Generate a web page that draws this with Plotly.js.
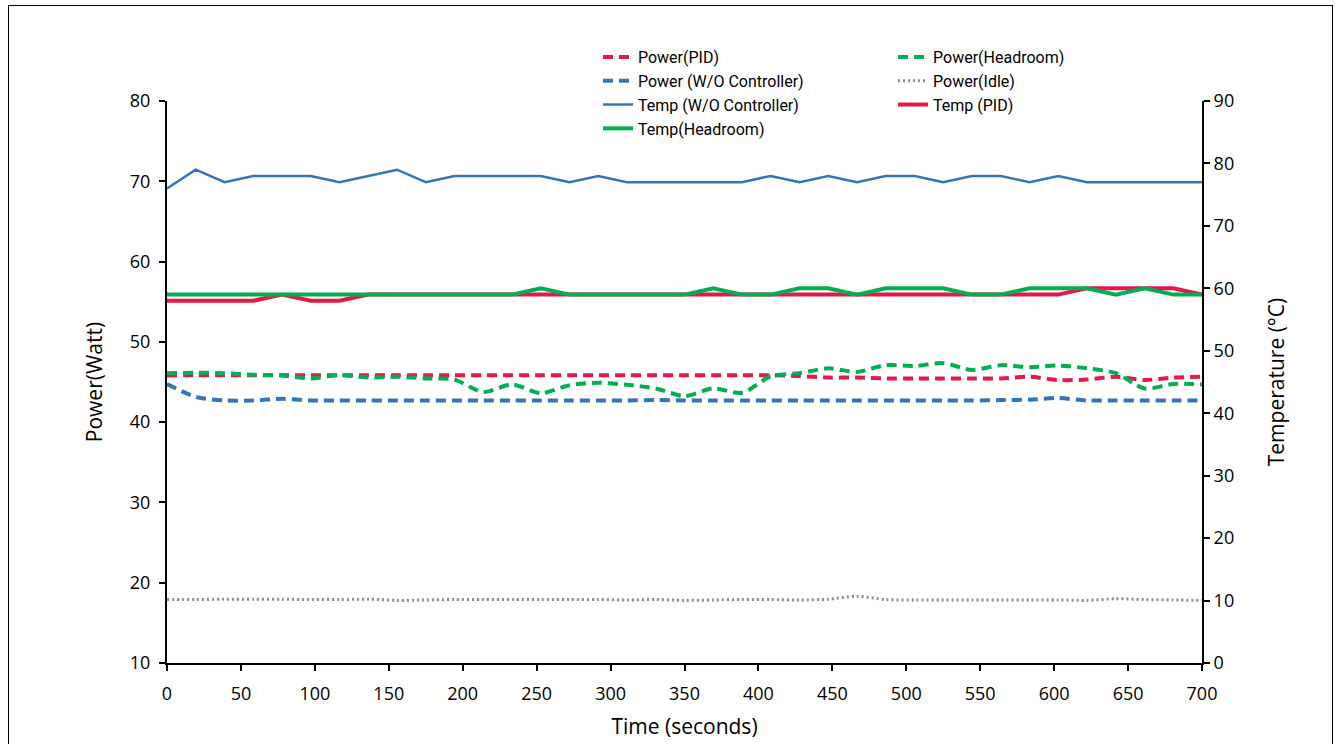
<!DOCTYPE html>
<html>
<head>
<meta charset="utf-8">
<script src="https://cdn.plot.ly/plotly-3.0.1.min.js"></script>
<style>
  html, body { margin: 0; padding: 0; background: #ffffff; }
  #chart { position: absolute; left: 0; top: 0; width: 1338px; height: 744px; }
  #frame { position: absolute; left: 8px; top: 5px; width: 1323px; height: 760px;
           border: 1px solid #000; pointer-events: none; }
</style>
</head>
<body>
<div id="chart"></div>
<div id="frame"></div>
<script>
// Sample times (seconds)
const timeSec = [0, 19.4, 38.9, 58.3, 77.8, 97.2, 116.7, 136.1, 155.6, 175, 194.4, 213.9,
  233.3, 252.8, 272.2, 291.7, 311.1, 330.6, 350, 369.4, 388.9, 408.3, 427.8, 447.2,
  466.7, 486.1, 505.6, 525, 544.4, 563.9, 583.3, 602.8, 622.2, 641.7, 661.1, 680.6, 700];

// Power draw (W)
const powerPID = [45.8, 45.85, 45.85, 45.85, 45.85, 45.85, 45.85, 45.85, 45.85, 45.85, 45.85, 45.85,
  45.85, 45.85, 45.85, 45.85, 45.85, 45.85, 45.85, 45.85, 45.85, 45.85, 45.75, 45.55,
  45.55, 45.45, 45.45, 45.45, 45.45, 45.45, 45.65, 45.25, 45.3, 45.65, 45.25, 45.55, 45.65];
const powerHeadroom = [46.1, 46.15, 46.1, 45.9, 45.8, 45.45, 45.85, 45.55, 45.65, 45.45, 45.3, 43.75,
  44.7, 43.6, 44.6, 44.9, 44.65, 44.2, 43.25, 44.2, 43.65, 45.7, 46.1, 46.7,
  46.25, 47.1, 47.0, 47.35, 46.5, 47.1, 46.85, 47.05, 46.7, 46.1, 44.2, 44.75, 44.7];
const powerNoCtrl = [44.75, 43.15, 42.7, 42.7, 42.9, 42.7, 42.7, 42.7, 42.7, 42.7, 42.7, 42.7,
  42.7, 42.7, 42.7, 42.7, 42.7, 42.75, 42.7, 42.7, 42.7, 42.7, 42.7, 42.7,
  42.7, 42.7, 42.7, 42.7, 42.7, 42.75, 42.8, 43.0, 42.7, 42.7, 42.7, 42.7, 42.7];
const powerIdle = [17.9, 17.9, 17.95, 17.95, 17.95, 17.9, 17.9, 17.95, 17.8, 17.85, 17.9, 17.9,
  17.9, 17.9, 17.9, 17.9, 17.85, 17.9, 17.8, 17.85, 17.9, 17.9, 17.85, 17.95,
  18.3, 17.9, 17.85, 17.85, 17.85, 17.85, 17.85, 17.85, 17.8, 18.0, 17.9, 17.85, 17.8];

// Temperature (°C)
const tempNoCtrl = [76, 79, 77, 78, 78, 78, 77, 78, 79, 77, 78, 78,
  78, 78, 77, 78, 77, 77, 77, 77, 77, 78, 77, 78,
  77, 78, 78, 77, 78, 78, 77, 78, 77, 77, 77, 77, 77];
const tempPID = [58, 58, 58, 58, 59, 58, 58, 59, 59, 59, 59, 59,
  59, 59, 59, 59, 59, 59, 59, 59, 59, 59, 59, 59,
  59, 59, 59, 59, 59, 59, 59, 59, 60, 60, 60, 60, 59];
const tempHeadroom = [59, 59, 59, 59, 59, 59, 59, 59, 59, 59, 59, 59,
  59, 60, 59, 59, 59, 59, 59, 60, 59, 59, 60, 60,
  59, 60, 60, 60, 59, 59, 60, 60, 60, 59, 60, 59, 59];

const RED = '#E8174B';
const GREEN = '#00B050';
const BLUE = '#3375BA';
const GRAY = '#8C8C8C';
const FONT = 'Open Sans, Liberation Sans, sans-serif';
const LEGEND_FONT = 'Roboto, Open Sans, sans-serif';

const powerDash = '10px,6px';

const traces = [
  { name: 'Power(PID)', y: powerPID, yaxis: 'y', legend: 'legend',
    line: { color: RED, width: 4, dash: powerDash, shape: 'spline', smoothing: 0.8 } },
  { name: 'Power(Headroom)', y: powerHeadroom, yaxis: 'y', legend: 'legend2',
    line: { color: GREEN, width: 4, dash: powerDash, shape: 'spline', smoothing: 0.8 } },
  { name: 'Power (W/O Controller)', y: powerNoCtrl, yaxis: 'y', legend: 'legend',
    line: { color: BLUE, width: 4, dash: powerDash, shape: 'spline', smoothing: 0.8 } },
  { name: 'Power(Idle)', y: powerIdle, yaxis: 'y', legend: 'legend2',
    line: { color: GRAY, width: 3, dash: '2px,3px', shape: 'spline', smoothing: 0.8 } },
  { name: 'Temp (W/O Controller)', y: tempNoCtrl, yaxis: 'y2', legend: 'legend',
    line: { color: BLUE, width: 2.5 } },
  { name: 'Temp (PID)', y: tempPID, yaxis: 'y2', legend: 'legend2',
    line: { color: RED, width: 4 } },
  { name: 'Temp(Headroom)', y: tempHeadroom, yaxis: 'y2', legend: 'legend',
    line: { color: GREEN, width: 4 } }
].map(t => Object.assign({ x: timeSec, type: 'scatter', mode: 'lines', hoverinfo: 'skip' }, t));

const axisCommon = {
  showgrid: false, zeroline: false, showline: true, linecolor: '#000', linewidth: 2,
  ticks: 'outside', ticklen: 6, tickwidth: 2, tickcolor: '#000',
  tickfont: { family: FONT, size: 18, color: '#000' }
};
const titleFont = { family: FONT, size: 21, color: '#000' };

const legendCommon = {
  orientation: 'v', xanchor: 'left', yanchor: 'top', xref: 'paper', yref: 'paper',
  bgcolor: 'rgba(0,0,0,0)', borderwidth: 0, tracegroupgap: 0,
  font: { family: LEGEND_FONT, size: 16, color: '#000' }
};

const layout = {
  width: 1338, height: 744,
  margin: { l: 167, r: 136, t: 101, b: 81 },
  paper_bgcolor: '#fff', plot_bgcolor: '#fff',
  font: { family: FONT, color: '#000' },
  xaxis: Object.assign({}, axisCommon, {
    range: [0, 700], dtick: 50, tick0: 0, ticklabelstandoff: 7,
    title: { text: 'Time (seconds)', font: titleFont, standoff: 16 }
  }),
  yaxis: Object.assign({}, axisCommon, {
    range: [10, 80], dtick: 10, tick0: 10, ticklabelstandoff: 5,
    title: { text: 'Power(Watt)', font: titleFont, standoff: 21 }
  }),
  yaxis2: Object.assign({}, axisCommon, {
    range: [0, 90], dtick: 10, tick0: 0, overlaying: 'y', side: 'right',
    title: { text: 'Temperature (°C)', font: titleFont, standoff: 36 }
  }),
  legend: Object.assign({}, legendCommon, { x: 0.4164, y: 1.1085 }),
  legend2: Object.assign({}, legendCommon, { x: 0.7015, y: 1.1085 }),
  showlegend: true
};

Plotly.newPlot('chart', traces, layout, { displayModeBar: false, staticPlot: true });
</script>
</body>
</html>
